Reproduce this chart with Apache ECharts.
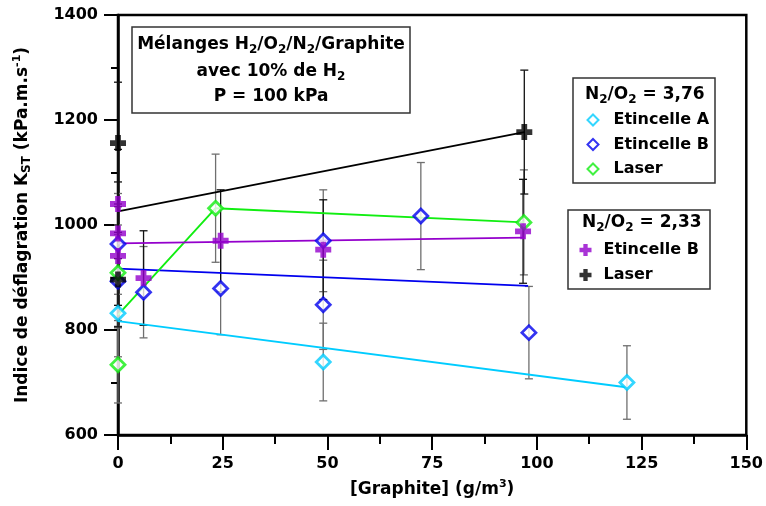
<!DOCTYPE html>
<html>
<head>
<meta charset="utf-8">
<script src="https://cdn.jsdelivr.net/npm/echarts@6/dist/echarts.min.js"></script>
<style>html,body{margin:0;padding:0;background:#fff;}#c{width:766px;height:506px;}</style>
</head>
<body>
<div id="c"></div>
<script>
// ---- data ----
// N2/O2 = 3,76  Etincelle A (cyan)
const sparkA_x   = [0, 49, 121.5];
const sparkA_y   = [832, 739, 700];
const sparkA_err = [83, 74, 70];
const sparkA_fit = [[0, 817], [121.3, 691]];
// N2/O2 = 3,76  Etincelle B (blue)
const sparkB376_x   = [0, 0, 6.1, 24.5, 49, 49, 72.3, 98.1];
const sparkB376_y   = [964, 893, 872, 879, 970, 848, 1017, 795];
const sparkB376_err = [96, 89, 87, 88, 97, 85, 102, 88];
const sparkB376_fit = [[0, 917], [97.9, 884]];
// N2/O2 = 3,76  Laser (green)
const laser376_x   = [0, 0, 23.3, 96.9];
const laser376_y   = [909, 734, 1032, 1005];
const laser376_err = [91, 73, 103, 100];
const laser376_line = [[0, 829], [23.3, 1032], [96.9, 1005]];
// N2/O2 = 2,33  Etincelle B (purple)
const sparkB233_x   = [0, 0, 0, 6.1, 24.5, 49, 96.7];
const sparkB233_y   = [1040, 984, 941, 899, 970, 953, 988];
const sparkB233_err = [104, 98, 94, 90, 97, 95, 99];
const sparkB233_fit = [[0, 965], [97, 976]];
// N2/O2 = 2,33  Laser (black)
const laser233_x   = [0, 0, 97];
const laser233_y   = [1156, 896, 1177];
const laser233_err = [116, 90, 118];
const laser233_fit = [[0, 1026], [97, 1177]];

const xTicks = {min: 0, max: 150, interval: 25};
const yTicks = {min: 600, max: 1400, interval: 200};

// ---- build ----
const FONT = 'DejaVu Sans';
const rich = {
  b: {fontFamily: FONT, fontWeight: 'bold', fontSize: 17, color: '#000', lineHeight: 21},
  s: {fontFamily: FONT, fontWeight: 'bold', fontSize: 12, color: '#000', lineHeight: 13, verticalAlign: 'bottom'},
  p: {fontFamily: FONT, fontWeight: 'bold', fontSize: 11, color: '#000', lineHeight: 13, verticalAlign: 'top'}
};
const C_CYAN = '#00CCFF', C_BLUE = '#0000EE', C_GREEN = '#11EE11', C_PURPLE = '#9400CC', C_BLACK = '#000000';
const GREY = '#6f6f6f';

function pts(xs, ys) { return xs.map((x, i) => [x, ys[i]]); }
function errs(xs, ys, es) { return xs.map((x, i) => [x, ys[i] - es[i], ys[i] + es[i]]); }

function errSeries(name, data, color) {
  return {
    type: 'custom', name: name, data: data, z: 1, silent: true,
    encode: {x: 0, y: [1, 2]},
    renderItem: function (params, api) {
      const x = api.value(0), lo = api.value(1), hi = api.value(2);
      const a = api.coord([x, lo]), b = api.coord([x, hi]);
      const w = 4;
      const st = {stroke: color, lineWidth: 1.3};
      return {type: 'group', children: [
        {type: 'line', shape: {x1: a[0], y1: a[1], x2: b[0], y2: b[1]}, style: st},
        {type: 'line', shape: {x1: a[0] - w, y1: a[1], x2: a[0] + w, y2: a[1]}, style: st},
        {type: 'line', shape: {x1: b[0] - w, y1: b[1], x2: b[0] + w, y2: b[1]}, style: st}
      ]};
    }
  };
}
function lineSeries(name, data, color) {
  return {type: 'line', name: name, data: data, showSymbol: false, symbol: 'none', silent: true, z: 3,
    lineStyle: {color: color, width: 1.9}};
}
function diamondSeries(name, data, color) {
  return {type: 'scatter', name: name, data: data, symbol: 'diamond', symbolSize: 14, z: 5,
    itemStyle: {color: '#fff', borderColor: color, borderWidth: 2.8}};
}
const PLUS = 'path://M3.2,0H6.8V3.2H10V6.8H6.8V10H3.2V6.8H0V3.2H3.2Z';
function plusSeries(name, data, color) {
  return {type: 'scatter', name: name, data: data, symbol: PLUS, symbolSize: 16, z: 6,
    itemStyle: {color: color}};
}

const chart = echarts.init(document.getElementById('c'));
const legendText = {fontFamily: FONT, fontWeight: 'bold', fontSize: 16, color: '#000', lineHeight: 20};

chart.setOption({
  animation: false,
  backgroundColor: '#fff',
  grid: {left: 118, right: 18, top: 15, bottom: 71, show: true, borderColor: '#000', borderWidth: 2.5, backgroundColor: 'transparent'},
  xAxis: {
    type: 'value', min: xTicks.min, max: xTicks.max, interval: xTicks.interval,
    axisLine: {show: true, lineStyle: {color: '#000', width: 2.5}},
    axisTick: {show: true, inside: false, length: 15, lineStyle: {color: '#000', width: 2}},
    minorTick: {show: true, splitNumber: 2, length: 9, lineStyle: {color: '#000', width: 2}},
    splitLine: {show: false},
    axisLabel: {fontFamily: FONT, fontWeight: 'bold', fontSize: 16, color: '#000', margin: 21,
      formatter: v => String(v)},
    name: '{b|[Graphite] (g/m}{p|3}{b|)}',
    nameLocation: 'middle', nameGap: 44,
    nameTextStyle: {rich: rich}
  },
  yAxis: {
    type: 'value', min: yTicks.min, max: yTicks.max, interval: yTicks.interval,
    axisLine: {show: true, lineStyle: {color: '#000', width: 2.5}},
    axisTick: {show: true, inside: false, length: 14, lineStyle: {color: '#000', width: 2}},
    minorTick: {show: true, splitNumber: 2, length: 7, lineStyle: {color: '#000', width: 2}},
    splitLine: {show: false},
    axisLabel: {fontFamily: FONT, fontWeight: 'bold', fontSize: 16, color: '#000', margin: 20,
      formatter: v => String(v)},
    name: '{b|Indice de déflagration K}{s|ST}{b| (kPa.m.s}{p|-1}{b|)}',
    nameLocation: 'middle', nameRotate: 90, nameGap: 85,
    nameTextStyle: {rich: rich}
  },
  legend: [
    {data: ['Etincelle A', 'Etincelle B (3,76)', 'Laser (3,76)'], orient: 'vertical', left: 586.5, top: 110,
      padding: 0, itemGap: 4.5, itemWidth: 11, itemHeight: 11, selectedMode: false,
      formatter: n => n.replace(/ \(.*\)$/, ''),
      textStyle: Object.assign({padding: [0, 0, 0, 10]}, legendText)},
    {data: ['Etincelle B (2,33)', 'Laser (2,33)'], orient: 'vertical', left: 579.5, top: 240,
      padding: 0, itemGap: 5, itemWidth: 12, itemHeight: 12, selectedMode: false,
      formatter: n => n.replace(/ \(.*\)$/, ''),
      textStyle: Object.assign({padding: [0, 0, 0, 7]}, legendText)}
  ],
  graphic: [
    {type: 'rect', shape: {x: 132, y: 27, width: 278, height: 86}, style: {fill: '#fff', stroke: '#333', lineWidth: 1.5}},
    {type: 'text', x: 271, y: 45, style: {text: '{b|Mélanges H}{s|2}{b|/O}{s|2}{b|/N}{s|2}{b|/Graphite}', rich: rich, align: 'center', verticalAlign: 'middle'}},
    {type: 'text', x: 271, y: 72, style: {text: '{b|avec 10% de H}{s|2}', rich: rich, align: 'center', verticalAlign: 'middle'}},
    {type: 'text', x: 271, y: 97, style: {text: '{b|P = 100 kPa}', rich: rich, align: 'center', verticalAlign: 'middle'}},
    {type: 'rect', shape: {x: 573, y: 78, width: 142, height: 105}, style: {fill: '#fff', stroke: '#333', lineWidth: 1.5}},
    {type: 'text', x: 585, y: 95, style: {text: '{b|N}{s|2}{b|/O}{s|2}{b| = 3,76}', rich: rich, align: 'left', verticalAlign: 'middle'}},
    {type: 'rect', shape: {x: 568, y: 210, width: 142, height: 79}, style: {fill: '#fff', stroke: '#333', lineWidth: 1.5}},
    {type: 'text', x: 582, y: 223, style: {text: '{b|N}{s|2}{b|/O}{s|2}{b| = 2,33}', rich: rich, align: 'left', verticalAlign: 'middle'}}
  ],
  series: [
    errSeries('errA', errs(sparkA_x, sparkA_y, sparkA_err), GREY),
    errSeries('errB376', errs(sparkB376_x, sparkB376_y, sparkB376_err), GREY),
    errSeries('errL376', errs(laser376_x, laser376_y, laser376_err), GREY),
    errSeries('errB233', errs(sparkB233_x, sparkB233_y, sparkB233_err), '#111'),
    errSeries('errL233', errs(laser233_x, laser233_y, laser233_err), '#111'),
    lineSeries('fitA', sparkA_fit, C_CYAN),
    lineSeries('fitB376', sparkB376_fit, C_BLUE),
    lineSeries('lineL376', laser376_line, C_GREEN),
    lineSeries('fitB233', sparkB233_fit, C_PURPLE),
    lineSeries('fitL233', laser233_fit, C_BLACK),
    diamondSeries('Etincelle A', pts(sparkA_x, sparkA_y), C_CYAN),
    diamondSeries('Etincelle B (3,76)', pts(sparkB376_x, sparkB376_y), C_BLUE),
    diamondSeries('Laser (3,76)', pts(laser376_x, laser376_y), C_GREEN),
    plusSeries('Etincelle B (2,33)', pts(sparkB233_x, sparkB233_y), C_PURPLE),
    plusSeries('Laser (2,33)', pts(laser233_x, laser233_y), C_BLACK)
  ]
});
</script>
</body>
</html>
